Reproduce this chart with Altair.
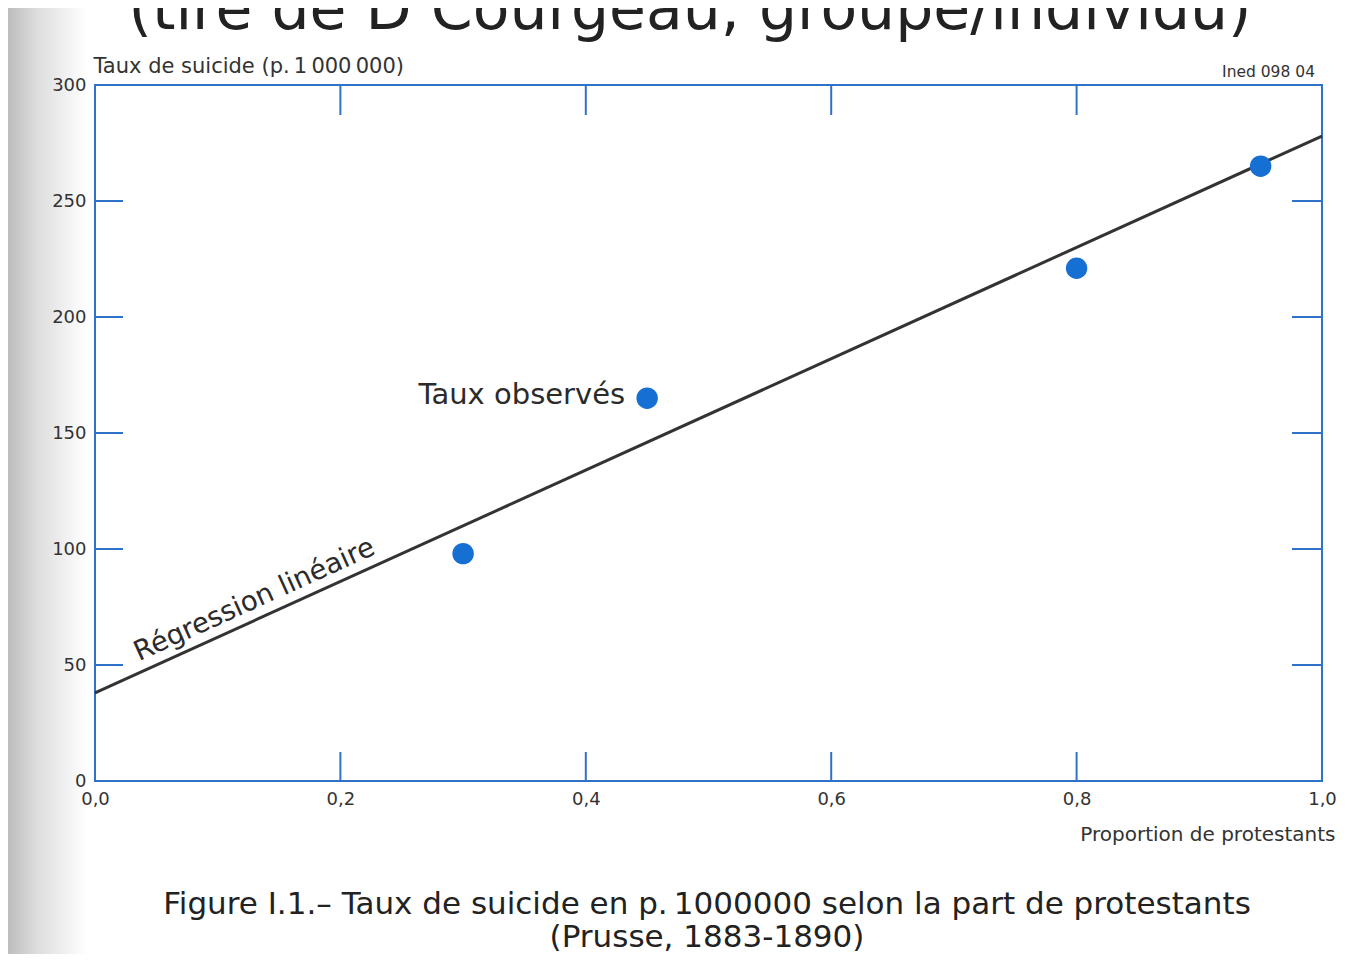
import altair as alt
import pandas as pd

# Observed rates (points)
obs_x = [0.30, 0.45, 0.80, 0.95]
obs_y = [98, 165, 221, 265]

# Linear regression line endpoints
reg_x = [0.0, 1.0]
reg_y = [38, 278]

# Axis tick values
x_ticks = [0.0, 0.2, 0.4, 0.6, 0.8, 1.0]
y_ticks = [0, 50, 100, 150, 200, 250, 300]
x_inner_ticks = [0.2, 0.4, 0.6, 0.8]
y_inner_ticks = [50, 100, 150, 200, 250]

heading = "(tiré de D Courgeau, groupe/individu)"
caption1 = "Figure I.1.\u2013 Taux de suicide en p.\u202f1000000 selon la part de protestants"
caption2 = "(Prusse, 1883-1890)"
y_title = "Taux de suicide (p.\u202f1\u202f000\u202f000)"
x_title = "Proportion de protestants"
code_label = "Ined 098 04"
obs_label = "Taux observés"
reg_label = "Régression linéaire"

W, H = 1227, 696
BLUE = "#2f72c9"
DOT = "#1670d4"
INK = "#2b2b2b"
FONT = "DejaVu Sans"

pts = pd.DataFrame({"x": obs_x, "y": obs_y})
reg = pd.DataFrame({"x": reg_x, "y": reg_y})
xt = pd.DataFrame({"v": x_inner_ticks})
yt = pd.DataFrame({"v": y_inner_ticks})
one = pd.DataFrame({"a": [0]})

xscale = alt.Scale(domain=[0, 1], nice=False, zero=False)
yscale = alt.Scale(domain=[0, 300], nice=False, zero=False)

xaxis = alt.Axis(
    values=x_ticks, grid=False, domain=False, ticks=False, zindex=2,
    labelExpr="replace(format(datum.value, '.1f'), '.', ',')",
    labelFontSize=18, labelColor="#333333", labelFont=FONT, labelPadding=9,
    labelFlush=False, labelOverlap=False,
    title=x_title, titleFont=FONT, titleFontSize=20, titleFontWeight="normal",
    titleColor="#333333", titleAnchor="end", titleAlign="right",
    titleX=1240, titleY=59, titleBaseline="alphabetic",
)
yaxis = alt.Axis(
    values=y_ticks, grid=False, domain=False, ticks=False, zindex=2,
    labelFontSize=18, labelColor="#333333", labelFont=FONT, labelPadding=9,
    labelFlush=False, labelOverlap=False,
    title=y_title, titleFont=FONT, titleFontSize=21, titleFontWeight="normal",
    titleColor="#333333", titleAngle=0, titleAlign="left", titleAnchor="start",
    titleX=-2, titleY=-13, titleBaseline="alphabetic",
)

# Scan shadow on the left margin
shadow = alt.Chart(one).mark_rect(
    color=alt.Gradient(
        gradient="linear",
        stops=[alt.GradientStop(color="#bdbdbd", offset=0),
               alt.GradientStop(color="#dcdcdc", offset=0.35),
               alt.GradientStop(color="#ffffff", offset=1)],
        x1=0, x2=1, y1=0, y2=0,
    )
).encode(x=alt.value(-87), x2=alt.value(-8), y=alt.value(-77), y2=alt.value(870))

base_axes = alt.Chart(reg).mark_line(opacity=0).encode(
    x=alt.X("x:Q", scale=xscale, axis=xaxis),
    y=alt.Y("y:Q", scale=yscale, axis=yaxis),
)

left_ticks = alt.Chart(yt).mark_rule(color=BLUE, strokeWidth=2).encode(
    y=alt.Y("v:Q", scale=yscale), x=alt.value(0), x2=alt.value(28))
right_ticks = alt.Chart(yt).mark_rule(color=BLUE, strokeWidth=2).encode(
    y=alt.Y("v:Q", scale=yscale), x=alt.value(W - 30), x2=alt.value(W))
top_ticks = alt.Chart(xt).mark_rule(color=BLUE, strokeWidth=2).encode(
    x=alt.X("v:Q", scale=xscale), y=alt.value(0), y2=alt.value(30))
bottom_ticks = alt.Chart(xt).mark_rule(color=BLUE, strokeWidth=2).encode(
    x=alt.X("v:Q", scale=xscale), y=alt.value(H - 29), y2=alt.value(H))

line = alt.Chart(reg).mark_line(color="#333333", strokeWidth=3).encode(
    x=alt.X("x:Q", scale=xscale), y=alt.Y("y:Q", scale=yscale))

points = alt.Chart(pts).mark_point(filled=True, size=460, opacity=1, color=DOT).encode(
    x=alt.X("x:Q", scale=xscale), y=alt.Y("y:Q", scale=yscale))

obs_text = alt.Chart(pts.iloc[[1]]).mark_text(
    text=obs_label, align="right", baseline="middle", dx=-22, dy=-3,
    fontSize=29, font=FONT, color=INK,
).encode(x=alt.X("x:Q", scale=xscale), y=alt.Y("y:Q", scale=yscale))

reg_text = alt.Chart(pd.DataFrame({"x": [0.13], "y": [78]})).mark_text(
    text=reg_label, align="center", baseline="middle", angle=335.6,
    fontSize=27.5, font=FONT, color=INK,
).encode(x=alt.X("x:Q", scale=xscale), y=alt.Y("y:Q", scale=yscale))

heading_text = alt.Chart(one).mark_text(
    text=heading, align="center", baseline="alphabetic",
    fontSize=60, font=FONT, color="#222222",
).encode(x=alt.value(595), y=alt.value(-56))

code_text = alt.Chart(one).mark_text(
    text=code_label, align="right", baseline="alphabetic",
    fontSize=15.5, font=FONT, color="#333333",
).encode(x=alt.value(W - 7), y=alt.value(-8))

cap1 = alt.Chart(one).mark_text(
    text=caption1, align="center", baseline="alphabetic",
    fontSize=31, font=FONT, color="#222222",
).encode(x=alt.value(612), y=alt.value(829))
cap2 = alt.Chart(one).mark_text(
    text=caption2, align="center", baseline="alphabetic",
    fontSize=31, font=FONT, color="#222222",
).encode(x=alt.value(612), y=alt.value(862))

chart = alt.layer(
    shadow, base_axes, left_ticks, right_ticks, top_ticks, bottom_ticks,
    line, points, obs_text, reg_text, heading_text, code_text, cap1, cap2,
).properties(
    width=W, height=H,
    autosize=alt.AutoSizeParams(type="none"),
    padding={"left": 87, "top": 77, "right": 15, "bottom": 173},
    background="white",
).configure_view(
    stroke=BLUE, strokeWidth=2,
)

chart.save("out.html", embed_options={"renderer": "svg", "actions": False})
